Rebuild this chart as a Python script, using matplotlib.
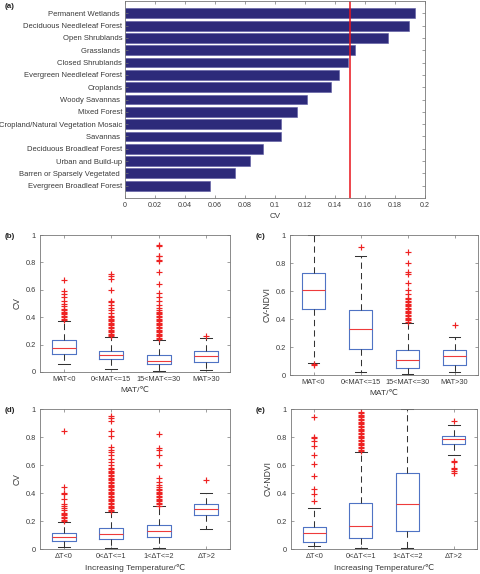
import matplotlib
matplotlib.use("Agg")
import matplotlib.pyplot as plt
from matplotlib.ticker import FuncFormatter

plt.rcParams['font.family'] = ['Liberation Sans', 'DejaVu Sans', 'Noto Sans CJK SC']

# ---------------- data ----------------
landcover = ['Permanent Wetlands ', 'Deciduous Needleleaf Forest', 'Open Shrublands',
             'Grasslands ', 'Closed Shrublands', 'Evergreen Needleleaf Forest', 'Croplands',
             'Woody Savannas ', 'Mixed Forest', 'Cropland/Natural Vegetation Mosaic',
             'Savannas ', 'Deciduous Broadleaf Forest', 'Urban and Build-up',
             'Barren or Sparsely Vegetated ', 'Evergreen Broadleaf Forest']
landcover_cv = [0.193, 0.1895, 0.175, 0.153, 0.1488, 0.1427, 0.137, 0.1213, 0.1144,
                0.104, 0.104, 0.0922, 0.0833, 0.0733, 0.0567]
cv_threshold = 0.15
a_xticks = [0, 0.02, 0.04, 0.06, 0.08, 0.1, 0.12, 0.14, 0.16, 0.18, 0.2]

mat_labels = ['MAT<0', '0<MAT<=15', '15<MAT<=30', 'MAT>30']
dt_labels = ['ΔT<0', '0<ΔT<=1', '1<ΔT<=2', 'ΔT>2']

# (b) CV by MAT
b_lo = [0.061, 0.021, 0.005, 0.016]
b_q1 = [0.134, 0.095, 0.055, 0.075]
b_med = [0.176, 0.122, 0.080, 0.120]
b_q3 = [0.232, 0.156, 0.125, 0.150]
b_hi = [0.373, 0.252, 0.232, 0.246]
b_fliers = [
    [0.38, 0.39, 0.40, 0.41, 0.42, 0.43, 0.44, 0.45, 0.46, 0.48, 0.50, 0.52, 0.55, 0.57, 0.59, 0.675],
    [0.26, 0.27, 0.28, 0.29, 0.30, 0.31, 0.32, 0.33, 0.34, 0.35, 0.36, 0.37, 0.38, 0.39, 0.40, 0.41,
     0.43, 0.45, 0.47, 0.49, 0.51, 0.52, 0.60, 0.68, 0.70, 0.715],
    [0.24, 0.25, 0.26, 0.27, 0.28, 0.29, 0.30, 0.31, 0.32, 0.33, 0.34, 0.35, 0.36, 0.37, 0.38, 0.39,
     0.40, 0.41, 0.42, 0.43, 0.44, 0.45, 0.47, 0.49, 0.52, 0.55, 0.58, 0.64, 0.73, 0.81, 0.82,
     0.845, 0.85, 0.92, 0.93],
    [0.265],
]

# (c) CV-NDVI by MAT
c_lo = [0.088, 0.021, 0.007, 0.021]
c_q1 = [0.472, 0.187, 0.052, 0.069]
c_med = [0.609, 0.327, 0.109, 0.135]
c_q3 = [0.732, 0.464, 0.180, 0.180]
c_hi = [1.0, 0.853, 0.372, 0.275]
c_fliers = [
    [0.072, 0.078],
    [0.915],
    [0.38, 0.39, 0.40, 0.41, 0.42, 0.43, 0.44, 0.45, 0.46, 0.47, 0.48, 0.49, 0.50, 0.51, 0.52,
     0.53, 0.54, 0.55, 0.58, 0.61, 0.66, 0.72, 0.735, 0.80, 0.88],
    [0.36],
]

# (d) CV by warming
d_lo = [0.017, 0.010, 0.010, 0.143]
d_q1 = [0.057, 0.069, 0.083, 0.245]
d_med = [0.083, 0.105, 0.126, 0.288]
d_q3 = [0.114, 0.148, 0.174, 0.324]
d_hi = [0.195, 0.264, 0.305, 0.400]
d_fliers = [
    [0.20, 0.21, 0.22, 0.23, 0.24, 0.25, 0.255, 0.28, 0.29, 0.31, 0.32, 0.36, 0.39, 0.40, 0.44, 0.845],
    [0.27, 0.28, 0.29, 0.30, 0.31, 0.32, 0.33, 0.34, 0.35, 0.36, 0.37, 0.38, 0.39, 0.40, 0.41, 0.42,
     0.43, 0.44, 0.45, 0.46, 0.47, 0.48, 0.49, 0.50, 0.51, 0.52, 0.53, 0.54, 0.55, 0.56, 0.57, 0.58,
     0.60, 0.62, 0.645, 0.67, 0.69, 0.71, 0.73, 0.81, 0.845, 0.915, 0.935, 0.95],
    [0.31, 0.32, 0.33, 0.34, 0.35, 0.36, 0.37, 0.38, 0.39, 0.40, 0.41, 0.42, 0.43, 0.44, 0.46,
     0.48, 0.51, 0.60, 0.67, 0.71, 0.72, 0.82],
    [0.49],
]

# (e) CV-NDVI by warming
e_lo = [0.021, 0.010, 0.010, 0.669]
e_q1 = [0.052, 0.081, 0.131, 0.750]
e_med = [0.112, 0.167, 0.319, 0.783]
e_q3 = [0.160, 0.326, 0.545, 0.810]
e_hi = [0.295, 0.690, 1.0, 0.886]
e_fliers = [
    [0.34, 0.39, 0.43, 0.52, 0.61, 0.675, 0.735, 0.775, 0.79, 0.80, 0.94],
    [0.70, 0.71, 0.72, 0.73, 0.74, 0.75, 0.76, 0.77, 0.78, 0.79, 0.80, 0.81, 0.82, 0.83, 0.84,
     0.85, 0.86, 0.87, 0.88, 0.89, 0.90, 0.91, 0.92, 0.93, 0.94, 0.95, 0.96, 0.97, 0.98],
    [],
    [0.54, 0.56, 0.575, 0.58, 0.62, 0.63, 0.915],
]

box_yticks = [0, 0.2, 0.4, 0.6, 0.8, 1]

# ---------------- style ----------------
TXT = '#3a3a3a'
EDGE = '#777777'

fig = plt.figure(figsize=(4.8, 5.74), dpi=100)
fmt = FuncFormatter(lambda v, p: ('%g' % round(v, 4)))


def style_axes(ax, fs):
    for s in ax.spines.values():
        s.set_color(EDGE)
        s.set_linewidth(0.6)
    ax.tick_params(direction='in', length=2.2, width=0.5, colors=EDGE,
                   labelcolor=TXT, labelsize=fs, top=True, right=True, pad=3)


# (a) bar chart
axa = fig.add_axes([125 / 480, 1 - 198 / 574, 300 / 480, 197 / 574])
ypos = list(range(1, len(landcover) + 1))
axa.barh(ypos, landcover_cv, height=0.8, color='#2d2a7a', edgecolor='#5a58a0', linewidth=0.4)
axa.axvline(cv_threshold, color='#e8141b', lw=1.1)
axa.set_xlim(0, 0.2)
axa.set_ylim(16, 0)
axa.set_yticks(ypos)
axa.set_yticklabels(landcover)
axa.set_xticks(a_xticks)
axa.xaxis.set_major_formatter(fmt)
style_axes(axa, 5.1)
axa.tick_params(axis='y', labelsize=5.5, pad=2)
axa.set_xlabel('CV', fontsize=5.8, color=TXT, labelpad=3)


def boxpanel(rect, labels, lo, q1, med, q3, hi, fliers, ylabel, xlabel):
    ax = fig.add_axes(rect)
    stats = []
    for i in range(len(labels)):
        stats.append(dict(label=labels[i], whislo=lo[i], q1=q1[i], med=med[i],
                          q3=q3[i], whishi=hi[i], fliers=fliers[i]))
    ax.bxp(stats, positions=[1, 2, 3, 4], widths=0.5, capwidths=0.25,
           boxprops=dict(color='#4f73c4', linewidth=0.8),
           medianprops=dict(color='#ee3b3b', linewidth=0.8),
           whiskerprops=dict(color='#333333', linewidth=0.75, linestyle=(0, (6, 4))),
           capprops=dict(color='#333333', linewidth=0.75),
           flierprops=dict(marker='+', markeredgecolor='#ee2222', markersize=4.8,
                           markeredgewidth=0.85, linestyle='none'))
    ax.set_xlim(0.5, 4.5)
    ax.set_ylim(0, 1)
    ax.set_yticks(box_yticks)
    ax.yaxis.set_major_formatter(fmt)
    style_axes(ax, 5.3)
    ax.set_ylabel(ylabel, fontsize=6.2, color=TXT, labelpad=3)
    ax.set_xlabel(xlabel, fontsize=6.0, color=TXT, labelpad=3)
    return ax


boxpanel([40 / 480, 1 - 372 / 574, 190 / 480, 137 / 574], mat_labels,
         b_lo, b_q1, b_med, b_q3, b_hi, b_fliers, 'CV', 'MAT/℃')
boxpanel([290 / 480, 1 - 375 / 574, 188 / 480, 140 / 574], mat_labels,
         c_lo, c_q1, c_med, c_q3, c_hi, c_fliers, 'CV-NDVI', 'MAT/℃')
boxpanel([40 / 480, 1 - 549 / 574, 190 / 480, 140 / 574], dt_labels,
         d_lo, d_q1, d_med, d_q3, d_hi, d_fliers, 'CV', 'Increasing Temperature/℃')
boxpanel([291 / 480, 1 - 549 / 574, 186 / 480, 140 / 574], dt_labels,
         e_lo, e_q1, e_med, e_q3, e_hi, e_fliers, 'CV-NDVI', 'Increasing Temperature/℃')

for lab, x, y in [('(a)', 5, 7), ('(b)', 5, 236), ('(c)', 256, 236), ('(d)', 5, 410), ('(e)', 256, 410)]:
    fig.text(x / 480, 1 - y / 574, lab, fontsize=5.8, fontweight='bold',
             color='#222222', ha='left', va='center')

fig.savefig('out.png', dpi=100)
